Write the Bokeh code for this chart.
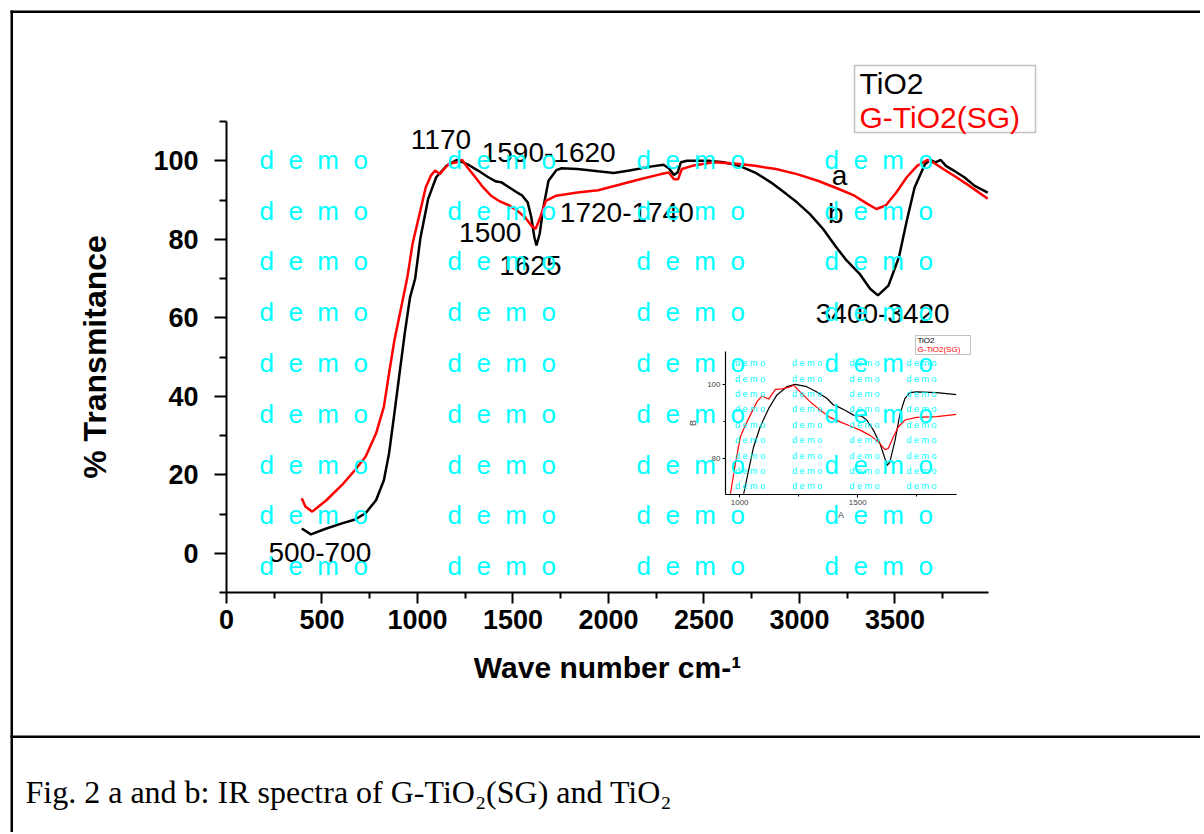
from bokeh.plotting import figure
from bokeh.models import Label, BoxAnnotation, FixedTicker, Range1d
from bokeh.layouts import column
from bokeh.embed import file_html
from bokeh.resources import INLINE

# ---------------- data ----------------
series_names = ["TiO2", "G-TiO2(SG)"]
series_colors = ["#000000", "#ff0000"]

tio2_x = [394, 442, 523, 605, 673, 728, 783, 824, 851, 879, 906, 933, 961, 988, 1015,
          1056, 1098, 1152, 1207, 1262, 1317, 1371, 1412, 1440, 1481, 1522, 1549, 1577,
          1596, 1612, 1623, 1640, 1659, 1686, 1727, 1755, 1837, 1946, 2028, 2110, 2220,
          2288, 2316, 2343, 2362, 2379, 2412, 2521, 2603, 2686, 2768, 2850, 2932, 2987,
          3055, 3124, 3192, 3247, 3315, 3370, 3411, 3466, 3521, 3562, 3603, 3657, 3685,
          3712, 3740, 3767, 3808, 3863, 3918, 3986]
tio2_y = [6.3, 4.8, 6.3, 7.6, 8.6, 10.2, 13.5, 18.6, 25.4, 35.6, 45.8, 55.9, 65.2, 70.0, 80.2,
          90.3, 95.8, 98.7, 100.2, 99.1, 97.5, 95.8, 94.7, 94.5, 93.2, 91.9, 91.1, 89.4,
          85.6, 80.5, 78.4, 81.4, 88.1, 94.9, 97.6, 98.1, 97.9, 97.3, 96.9, 97.5, 98.5,
          99.0, 98.1, 96.4, 97.0, 99.6, 100.0, 100.0, 99.6, 98.7, 97.0, 94.5, 91.5, 89.4,
          86.4, 82.6, 78.0, 74.6, 71.2, 67.4, 65.7, 68.2, 75.4, 84.7, 93.2, 99.1, 100.2,
          99.6, 100.2, 98.7, 97.5, 95.8, 93.6, 91.9]

gtio2_x = [394, 413, 449, 523, 605, 673, 728, 783, 824, 851, 879, 910, 947, 974, 1015,
           1043, 1070, 1092, 1117, 1139, 1166, 1207, 1234, 1262, 1303, 1344, 1385, 1426,
           1481, 1522, 1563, 1596, 1618, 1640, 1672, 1727, 1837, 1946, 2056, 2165, 2275,
           2316, 2343, 2365, 2384, 2439, 2549, 2658, 2768, 2877, 2987, 3096, 3206, 3288,
           3356, 3403, 3452, 3507, 3562, 3616, 3671, 3699, 3753, 3822, 3890, 3986]
gtio2_y = [14.0, 11.9, 10.6, 13.5, 17.4, 21.2, 24.6, 30.5, 37.3, 45.8, 54.2, 61.5, 70.3, 78.8,
           87.3, 93.2, 96.2, 97.5, 96.6, 97.9, 99.3, 99.6, 100.2, 98.3, 95.8, 93.2, 91.1,
           89.8, 88.6, 87.3, 85.6, 83.5, 82.6, 85.2, 89.8, 91.1, 91.9, 92.5, 93.9, 95.3,
           96.6, 97.0, 95.3, 95.3, 97.9, 98.7, 99.6, 99.3, 98.7, 97.9, 96.6, 94.9, 92.8,
           91.1, 89.0, 87.7, 88.6, 91.9, 95.8, 98.7, 100.2, 99.6, 97.9, 95.8, 93.6, 90.3]

inset_tio2_x = [1017, 1038, 1059, 1087, 1123, 1158, 1200, 1235, 1284, 1327, 1369, 1397, 1411,
                1446, 1482, 1517, 1538, 1566, 1594, 1615, 1625, 1636, 1658, 1679, 1700, 1721,
                1749, 1834, 1918]
inset_tio2_y = [70.7, 77.0, 83.2, 88.6, 93.5, 97.1, 99.3, 99.9, 99.3, 97.9, 96.2, 94.4, 94.1,
                93.0, 91.7, 91.4, 90.4, 87.7, 84.1, 80.1, 78.3, 79.2, 85.0, 92.1, 96.2, 97.7,
                97.9, 97.7, 97.2]
inset_gtio2_x = [961, 982, 1003, 1024, 1045, 1073, 1094, 1123, 1151, 1179, 1207, 1228, 1256,
                 1298, 1341, 1383, 1425, 1468, 1510, 1552, 1587, 1615, 1629, 1651, 1672, 1700,
                 1749, 1834, 1918]
inset_gtio2_y = [70.7, 78.8, 85.9, 89.0, 91.7, 95.3, 96.8, 96.0, 98.6, 98.7, 99.1, 99.7, 97.9,
                 95.3, 93.0, 91.1, 89.9, 88.8, 87.7, 86.3, 84.6, 82.5, 82.8, 85.9, 88.6, 90.4,
                 91.1, 91.3, 91.9]

x_ticks = [0, 500, 1000, 1500, 2000, 2500, 3000, 3500]
x_minor = [250, 750, 1250, 1750, 2250, 2750, 3250, 3750]
y_ticks = [0, 20, 40, 60, 80, 100]
y_minor = [-10, 10, 30, 50, 70, 90, 110]

peak_labels = ["1170", "1590-1620", "1500", "1625", "1720-1740", "a", "b", "3400-3420", "500-700"]
peak_x = [1123, 1687, 1381, 1591, 2096, 3210, 3190, 3436, 489]
peak_y = [105.5, 102.2, 81.7, 73.3, 86.9, 96.2, 86.6, 61.2, 0.1]

caption = "Fig. 2 a and b: IR spectra of G-TiO\u2082(SG) and TiO\u2082"
watermark = "d\u00a0\u00a0e\u00a0\u00a0m\u00a0\u00a0o"
small_watermark = "d e m o"

# ---------------- main figure ----------------
W, H = 1200, 832
FL, FR, FT, FB = 226, 988, 121, 592
X0, X1, Y0, Y1 = 0, 3990, -10, 110

p = figure(width=W, height=H, x_range=Range1d(X0, X1), y_range=Range1d(Y0, Y1),
           output_backend="svg", toolbar_location=None,
           min_border_left=FL, min_border_right=W - FR,
           min_border_top=FT, min_border_bottom=H - FB)
p.outline_line_color = None
p.grid.visible = False
p.background_fill_color = "white"
p.border_fill_color = "white"

for ax in (p.xaxis[0], p.yaxis[0]):
    ax.axis_line_width = 2
    ax.major_tick_line_width = 2
    ax.minor_tick_line_width = 2
    ax.major_tick_in = 0
    ax.minor_tick_in = 0
    ax.major_label_text_font = "Liberation Sans"
    ax.major_label_text_font_style = "bold"
    ax.major_label_text_font_size = "27px"
    ax.major_label_text_color = "black"
    ax.axis_label_text_font = "Liberation Sans"
    ax.axis_label_text_font_style = "bold"
    ax.axis_label_text_color = "black"

p.xaxis.ticker = FixedTicker(ticks=x_ticks, minor_ticks=x_minor)
p.xaxis.major_tick_out = 11
p.xaxis.minor_tick_out = 6
p.xaxis.major_label_standoff = 6
p.xaxis.axis_label = "Wave number cm-\u00b9"
p.xaxis.axis_label_text_font_size = "30px"
p.xaxis.axis_label_standoff = 19

p.yaxis.ticker = FixedTicker(ticks=y_ticks, minor_ticks=y_minor)
p.yaxis.major_tick_out = 12
p.yaxis.minor_tick_out = 7
p.yaxis.major_label_standoff = 16
p.yaxis.axis_label = "% Transmitance"
p.yaxis.axis_label_text_font_size = "32px"
p.yaxis.axis_label_standoff = 37

p.line(tio2_x, tio2_y, line_color=series_colors[0], line_width=2.5)
p.line(gtio2_x, gtio2_y, line_color=series_colors[1], line_width=2.5)

for t, x, y in zip(peak_labels, peak_x, peak_y):
    p.add_layout(Label(x=x, y=y, text=t, text_align="center", text_baseline="middle",
                       text_font="Liberation Sans", text_font_size="28px", text_color="black"))

# ---------------- inset figure ----------------
IW, IH = 295, 194
IL, IT = 680, 330  # page position of inset figure
IFL, IFR, IFT, IFB = 725, 956, 351, 494  # page position of inset frame
IX0, IX1, IY0, IY1 = 940, 1918, 70.5, 108.7


def ix(X):
    return IX0 + (X - IFL) / (IFR - IFL) * (IX1 - IX0)


def iy(Y):
    return IY1 - (Y - IFT) / (IFB - IFT) * (IY1 - IY0)


q = figure(width=IW, height=IH, x_range=Range1d(IX0, IX1), y_range=Range1d(IY0, IY1),
           output_backend="svg", toolbar_location=None,
           min_border_left=IFL - IL, min_border_right=IL + IW - IFR,
           min_border_top=IFT - IT, min_border_bottom=IT + IH - IFB)
q.outline_line_color = None
q.grid.visible = False
q.background_fill_alpha = 0
q.border_fill_alpha = 0
for ax in (q.xaxis[0], q.yaxis[0]):
    ax.axis_line_width = 1.2
    ax.major_tick_in = 0
    ax.major_tick_out = 3
    ax.minor_tick_in = 0
    ax.minor_tick_out = 2
    ax.major_label_text_font = "Liberation Sans"
    ax.major_label_text_font_size = "8px"
    ax.major_label_standoff = 2
    ax.axis_label_text_font = "Liberation Sans"
    ax.axis_label_text_font_style = "normal"
    ax.axis_label_text_font_size = "9px"
    ax.axis_label_standoff = 2
q.xaxis.ticker = FixedTicker(ticks=[1000, 1500], minor_ticks=[1250, 1750])
q.yaxis.ticker = FixedTicker(ticks=[80, 100], minor_ticks=[90])
q.xaxis.axis_label = "A"
q.yaxis.axis_label = "B"
q.yaxis.axis_label_standoff = 6

q.line(inset_tio2_x, inset_tio2_y, line_color=series_colors[0], line_width=1.2)
q.line(inset_gtio2_x, inset_gtio2_y, line_color=series_colors[1], line_width=1.2)

for cx in [734.5, 791.6, 849, 906]:
    for k in range(9):
        q.add_layout(Label(x=ix(cx), y=iy(362.7 + 15.4 * k), text=small_watermark,
                           text_align="left", text_baseline="middle",
                           text_font="Liberation Sans", text_font_size="9px",
                           text_color="#00ffff"))

# ---------------- page overlay (frame lines, legend, caption, watermark) ----------------
o = figure(width=W, height=H, x_range=Range1d(0, W), y_range=Range1d(H, 0),
           output_backend="svg", toolbar_location=None,
           x_axis_location=None, y_axis_location=None, min_border=0)
o.outline_line_color = None
o.grid.visible = False
o.background_fill_alpha = 0
o.border_fill_alpha = 0

for l, r, t, b in [(10, W, 10, 12.5), (10, 12.5, 10, H), (10, W, 735, 737.5)]:
    o.add_layout(BoxAnnotation(left=l, right=r, top=t, bottom=b,
                               fill_color="black", fill_alpha=1, line_color=None))
o.add_layout(Label(x=25, y=791, text=caption, text_align="left",
                   text_baseline="middle", text_font="Liberation Serif",
                   text_font_size="32px", text_color="black"))

# main legend
o.add_layout(BoxAnnotation(left=854, right=1035, top=65, bottom=132,
                           fill_color="white", fill_alpha=1, line_color="#333333",
                           line_width=1.5))
for i, name in enumerate(series_names):
    o.add_layout(Label(x=859, y=82.5 + 34 * i, text=name, text_align="left",
                       text_baseline="middle", text_font="Liberation Sans",
                       text_font_size="30px", text_color=series_colors[i]))

# inset legend
o.add_layout(BoxAnnotation(left=915, right=970, top=335, bottom=354,
                           fill_color="white", fill_alpha=1, line_color="#333333",
                           line_width=1))
for i, name in enumerate(series_names):
    o.add_layout(Label(x=917, y=340 + 8.5 * i, text=name, text_align="left",
                       text_baseline="middle", text_font="Liberation Sans",
                       text_font_size="8px", text_color=series_colors[i]))

# watermark
for cx in [259, 447, 636, 824]:
    for k in range(9):
        o.add_layout(Label(x=cx, y=159.3 + 50.8 * k, text=watermark,
                           text_align="left", text_baseline="middle",
                           text_font="Liberation Sans", text_font_size="26px",
                           text_color="#00ffff"))

# wrap the overlapping figures so that their frames are not aligned with the main one
wq = column(q)
wq.margin = (IT - H, 0, 0, IL)
wo = column(o)
wo.margin = (-(IT + IH), 0, 0, 0)

layout = column(p, wq, wo)
open("out.html", "w").write(file_html(layout, INLINE))
